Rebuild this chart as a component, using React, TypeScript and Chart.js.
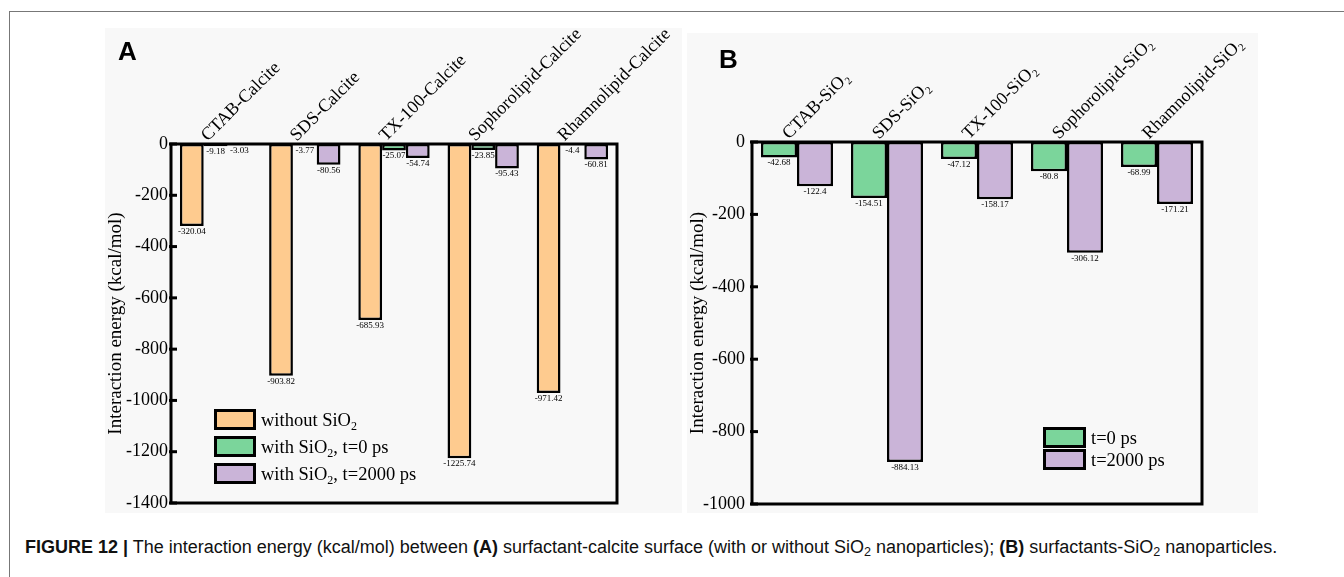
import React, { useEffect, useRef } from "react";
import { Chart, registerables } from "chart.js";

Chart.register(...registerables);

// ---------- data ----------
const categoriesA = [
  "CTAB-Calcite",
  "SDS-Calcite",
  "TX-100-Calcite",
  "Sophorolipid-Calcite",
  "Rhamnolipid-Calcite",
];
const withoutSiO2 = [-320.04, -903.82, -685.93, -1225.74, -971.42];
const withSiO2T0 = [-9.18, -3.77, -25.07, -23.85, -4.4];
const withSiO2T2000 = [-3.03, -80.56, -54.74, -95.43, -60.81];
const seriesNamesA = ["without SiO₂", "with SiO₂, t=0 ps", "with SiO₂, t=2000 ps"];
const yTicksA = { min: -1400, max: 0, step: 200 };

const categoriesB = [
  "CTAB-SiO₂",
  "SDS-SiO₂",
  "TX-100-SiO₂",
  "Sophorolipid-SiO₂",
  "Rhamnolipid-SiO₂",
];
const t0B = [-42.68, -154.51, -47.12, -80.8, -68.99];
const t2000B = [-122.4, -884.13, -158.17, -306.12, -171.21];
const seriesNamesB = ["t=0 ps", "t=2000 ps"];
const yTicksB = { min: -1000, max: 0, step: 200 };

const yTitle = "Interaction energy (kcal/mol)";

// ---------- styles ----------
const SERIF = "'Liberation Serif', 'Times New Roman', serif";
const SANS = "'Liberation Sans', Arial, Helvetica, sans-serif";
const ORANGE = "#FECB8F";
const GREEN = "#7BD59B";
const PURPLE = "#CAB4D8";
const BG = "#f8f8f8";

const valueLabelPlugin = {
  id: "valueLabels",
  afterDatasetsDraw(chart: any) {
    const ctx = chart.ctx;
    ctx.save();
    ctx.font = `9px ${SERIF}`;
    ctx.fillStyle = "#000";
    ctx.textAlign = "center";
    ctx.textBaseline = "top";
    chart.data.datasets.forEach((ds: any, i: number) => {
      const meta = chart.getDatasetMeta(i);
      meta.data.forEach((el: any, j: number) => {
        ctx.fillText(String(ds.data[j]), el.x, el.y + 1);
      });
    });
    ctx.restore();
  },
};

const framePlugin = {
  id: "frame",
  afterDraw(chart: any) {
    const { ctx, chartArea: a } = chart;
    const y = chart.scales.y;
    ctx.save();
    ctx.strokeStyle = "#000";
    ctx.lineWidth = 3;
    ctx.strokeRect(a.left, a.top, a.right - a.left, a.bottom - a.top);
    y.ticks.forEach((t: any) => {
      const py = y.getPixelForValue(t.value);
      ctx.beginPath();
      ctx.moveTo(a.left - 2, py);
      ctx.lineTo(a.left + 6, py);
      ctx.stroke();
    });
    ctx.restore();
  },
};

type PanelProps = {
  left: number;
  top: number;
  width: number;
  height: number;
  labels: string[];
  series: number[][];
  colors: string[];
  names: string[];
  ticks: { min: number; max: number; step: number };
  yAxisWidth: number;
  xAxisHeight: number;
  padRight: number;
  padBottom: number;
  tickPad: number;
  catFont: number;
};

function BarPanel(p: PanelProps) {
  const ref = useRef<HTMLCanvasElement>(null);
  useEffect(() => {
    const chart = new Chart(ref.current as HTMLCanvasElement, {
      type: "bar",
      data: {
        labels: p.labels,
        datasets: p.series.map((d, i) => ({
          label: p.names[i],
          data: d,
          backgroundColor: p.colors[i],
          borderColor: "#000",
          borderWidth: 2.5,
          borderSkipped: false,
          categoryPercentage: 0.8,
          barPercentage: 1,
        })),
      },
      options: {
        animation: false,
        responsive: false,
        maintainAspectRatio: false,
        layout: { padding: { left: 0, top: 0, right: p.padRight, bottom: p.padBottom } },
        plugins: { legend: { display: false }, tooltip: { enabled: false } },
        scales: {
          x: {
            position: "top",
            grid: { display: false, drawTicks: false },
            border: { display: false },
            ticks: {
              minRotation: 45,
              maxRotation: 45,
              autoSkip: false,
              padding: -2,
              labelOffset: 4,
              color: "#000",
              font: { family: SERIF, size: p.catFont },
            },
            afterFit: (s: any) => {
              s.height = p.xAxisHeight;
              s.paddingLeft = 0;
              s.paddingRight = 0;
            },
          },
          y: {
            min: p.ticks.min,
            max: p.ticks.max,
            grid: { display: false, drawTicks: false },
            border: { display: false },
            ticks: {
              stepSize: p.ticks.step,
              padding: p.tickPad,
              color: "#000",
              font: { family: SERIF, size: 18 },
              callback: (v: any) => String(v),
            },
            title: {
              display: true,
              text: yTitle,
              color: "#000",
              font: { family: SERIF, size: 19 },
              padding: { top: 0, bottom: 0 },
            },
            afterFit: (s: any) => {
              s.width = p.yAxisWidth;
              s.paddingTop = 0;
              s.paddingBottom = 0;
            },
          },
        },
      } as any,
      plugins: [valueLabelPlugin, framePlugin],
    });
    return () => chart.destroy();
  }, []);
  return (
    <canvas
      ref={ref}
      width={p.width}
      height={p.height}
      style={{ position: "absolute", left: p.left, top: p.top, width: p.width, height: p.height }}
    />
  );
}

function withSub(s: string) {
  const parts = s.split("₂");
  return parts.map((t, i) => (
    <React.Fragment key={i}>
      {t}
      {i < parts.length - 1 ? <sub style={{ fontSize: "0.65em", verticalAlign: "-0.3em" }}>2</sub> : null}
    </React.Fragment>
  ));
}

function Legend(props: {
  left: number;
  tops: number[];
  boxW: number;
  boxH: number;
  colors: string[];
  names: string[];
}) {
  return (
    <>
      {props.names.map((n, i) => (
        <div key={i}>
          <div
            style={{
              position: "absolute",
              left: props.left,
              top: props.tops[i],
              width: props.boxW,
              height: props.boxH,
              boxSizing: "border-box",
              border: "3px solid #000",
              background: props.colors[i],
            }}
          />
          <div
            style={{
              position: "absolute",
              left: props.left + props.boxW + 5,
              top: props.tops[i] + props.boxH / 2 - 12,
              height: 24,
              lineHeight: "24px",
              fontFamily: SERIF,
              fontSize: 18.5,
              color: "#000",
              whiteSpace: "nowrap",
            }}
          >
            {withSub(n)}
          </div>
        </div>
      ))}
    </>
  );
}

export default function App() {
  return (
    <div
      style={{
        position: "absolute",
        left: 0,
        top: 0,
        width: 1344,
        height: 577,
        background: "#fff",
        overflow: "hidden",
      }}
    >
      {/* outer figure frame */}
      <div style={{ position: "absolute", left: 9, top: 11, width: 1335, height: 1, background: "#777" }} />
      <div style={{ position: "absolute", left: 9, top: 11, width: 1, height: 566, background: "#777" }} />

      {/* panel backgrounds */}
      <div style={{ position: "absolute", left: 105, top: 28, width: 577, height: 485, background: BG }} />
      <div style={{ position: "absolute", left: 687, top: 33, width: 571, height: 480, background: BG }} />

      <BarPanel
        left={105}
        top={20}
        width={577}
        height={493}
        labels={categoriesA}
        series={[withoutSiO2, withSiO2T0, withSiO2T2000]}
        colors={[ORANGE, GREEN, PURPLE]}
        names={seriesNamesA}
        ticks={yTicksA}
        yAxisWidth={66}
        xAxisHeight={124}
        padRight={65}
        padBottom={10}
        tickPad={3}
        catFont={18}
      />
      <BarPanel
        left={687}
        top={22}
        width={571}
        height={491}
        labels={categoriesB}
        series={[t0B, t2000B]}
        colors={[GREEN, PURPLE]}
        names={seriesNamesB}
        ticks={yTicksB}
        yAxisWidth={65}
        xAxisHeight={120}
        padRight={56}
        padBottom={9}
        tickPad={7}
        catFont={18}
      />

      <Legend left={214} tops={[409, 436, 463]} boxW={42} boxH={21} colors={[ORANGE, GREEN, PURPLE]} names={seriesNamesA} />
      <Legend left={1043} tops={[427, 449]} boxW={43} boxH={21} colors={[GREEN, PURPLE]} names={seriesNamesB} />

      <div
        style={{ position: "absolute", left: 118, top: 38, fontFamily: SANS, fontWeight: "bold", fontSize: 26, lineHeight: "26px" }}
      >
        A
      </div>
      <div
        style={{ position: "absolute", left: 719, top: 46, fontFamily: SANS, fontWeight: "bold", fontSize: 26, lineHeight: "26px" }}
      >
        B
      </div>

      <div
        style={{
          position: "absolute",
          left: 25,
          top: 536,
          fontFamily: SANS,
          fontSize: 18,
          lineHeight: "22px",
          color: "#111",
          whiteSpace: "nowrap",
        }}
      >
        <b>FIGURE 12 |</b> The interaction energy (kcal/mol) between <b>(A)</b> surfactant-calcite surface (with or without SiO
        <sub style={{ fontSize: "0.7em", verticalAlign: "-0.25em" }}>2</sub> nanoparticles); <b>(B)</b> surfactants-SiO
        <sub style={{ fontSize: "0.7em", verticalAlign: "-0.25em" }}>2</sub> nanoparticles.
      </div>
    </div>
  );
}
